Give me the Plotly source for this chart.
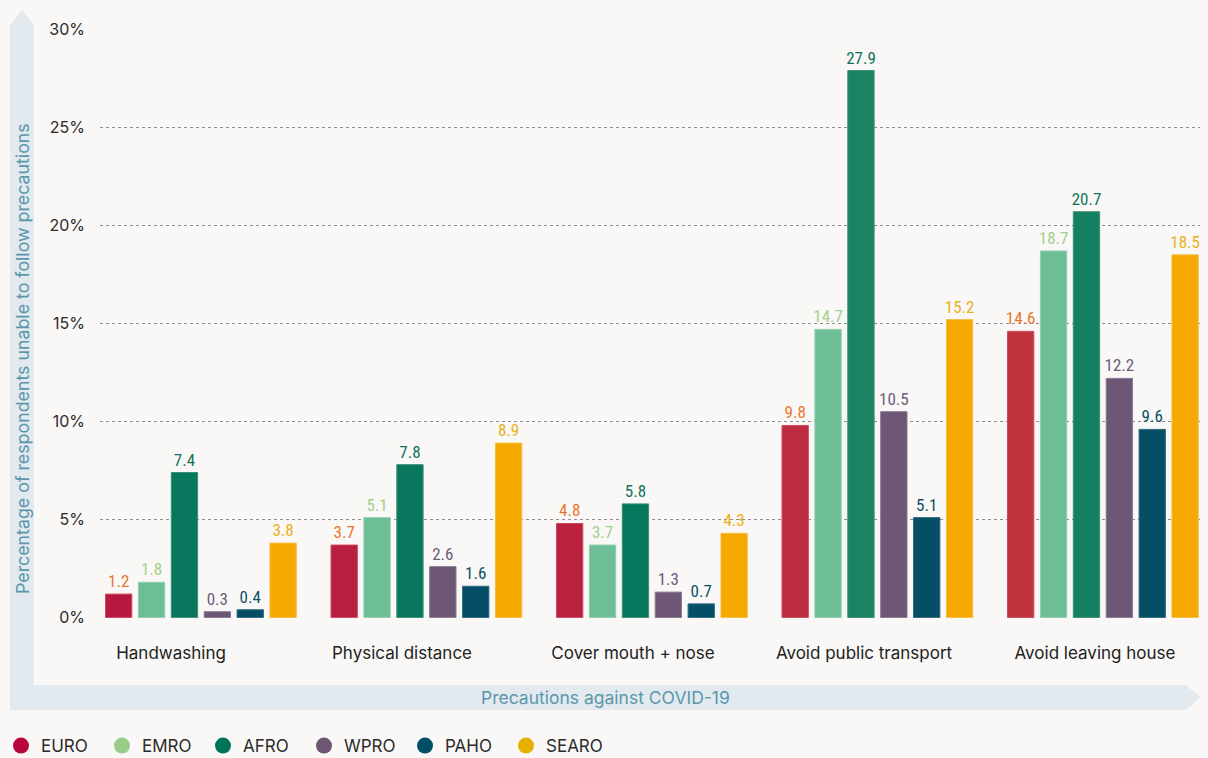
import plotly.graph_objects as go

categories = ["Handwashing", "Physical distance", "Cover mouth + nose",
              "Avoid public transport", "Avoid leaving house"]
regions = ["EURO", "EMRO", "AFRO", "WPRO", "PAHO", "SEARO"]
euro = [1.2, 3.7, 4.8, 9.8, 14.6]
emro = [1.8, 5.1, 3.7, 14.7, 18.7]
afro = [7.4, 7.8, 5.8, 27.9, 20.7]
wpro = [0.3, 2.6, 1.3, 10.5, 12.2]
paho = [0.4, 1.6, 0.7, 5.1, 9.6]
searo = [3.8, 8.9, 4.3, 15.2, 18.5]
series = [euro, emro, afro, wpro, paho, searo]
y_ticks = [0, 5, 10, 15, 20, 25, 30]
y_ticktext = ["0%", "5%", "10%", "15%", "20%", "25%", "30%"]

# bar colour at the baseline and (for the gradient ones) at the 30% level
bar_base = ["#B5173F", "#6DBE97", "#00735A", "#6D5775", "#054E66", "#F5A800"]
bar_top = ["#E3903A", "#6DBE97", "#3E9572", "#6D5775", "#054E66", "#F5A800"]
bar_edge = ["#CC4A5E", "#8FD0AE", "#3A8F74", "#8A7790", "#2C6A7E", "#F8BE40"]
label_colors = ["#E8752E", "#A2D08E", "#11735A", "#6F5A7A", "#0D5068", "#E8B21A"]
legend_colors = ["#B8063E", "#98CC88", "#007458", "#6E5673", "#004F66", "#E5B100"]
BG = "#F9F8F6"

# The page body has an 8px margin, so the figure starts at screen (8, 8).
OFF = 8
W, H = 1200, 750
# plot area in screen pixels
SL, SR, ST, SB = 100, 1206, 29, 618
L, T = SL - OFF, ST - OFF
R = W - (SR - OFF)
B = H - (SB - OFF)
PW, PH = W - L - R, H - T - B


def px2paper(x, y):
    """screen pixel -> paper coordinates"""
    return (x - OFF - L) / PW, 1 - (y - OFF - T) / PH


def hex2rgb(h):
    h = h.lstrip("#")
    return [int(h[i:i + 2], 16) for i in (0, 2, 4)]


def mix(c1, c2, t):
    a, b = hex2rgb(c1), hex2rgb(c2)
    return "rgb({},{},{})".format(*[round(x + (y - x) * t) for x, y in zip(a, b)])


xs = list(range(len(categories)))
fig = go.Figure()
for name, vals, cb, ct, ce, lc in zip(regions, series, bar_base, bar_top, bar_edge, label_colors):
    # mean colour of a vertical gradient running from the base to the bar top
    cols = [mix(cb, ct, v / 60.0) for v in vals]
    fig.add_trace(go.Bar(
        x=xs, y=vals, name=name,
        marker=dict(color=cols, line=dict(width=1, color=ce)),
        text=[f"{v:.1f}" for v in vals], textposition="outside",
        constraintext="none",
        textfont=dict(color=lc, size=17,
                      family="Liberation Sans Narrow, Roboto Condensed, Arial Narrow, sans-serif"),
        cliponaxis=False, showlegend=False, hoverinfo="x+y"))
for name, c in zip(regions, legend_colors):
    fig.add_trace(go.Scatter(x=[None], y=[None], mode="markers", name=name,
                             marker=dict(color=c, size=18, symbol="circle")))

# geometry of the category axis (screen pixels)
group0_px, group_step_px = 200.9, 225.5
label_centers_px = [171 + 231 * i for i in range(len(categories))]
tickvals = [(p - group0_px) / group_step_px for p in label_centers_px]
x_range = [(SL - group0_px) / group_step_px, (SR - group0_px) / group_step_px]

# decorative arrow band (screen pixels)
pts = [(10, 25), (22, 10), (34, 25), (34, 685), (1186, 685), (1201, 697.5),
       (1186, 710), (10, 710)]
path = "M " + " L ".join(f"{px2paper(x, y)[0]:.5f},{px2paper(x, y)[1]:.5f}" for x, y in pts) + " Z"

fig.update_layout(
    width=W, height=H,
    margin=dict(l=L, r=R, t=T, b=B, autoexpand=False),
    paper_bgcolor=BG, plot_bgcolor=BG,
    barmode="group", bargap=0.125, bargroupgap=0.2,
    font=dict(family="Inter, Open Sans, sans-serif", color="#2b2b2b"),
    xaxis=dict(range=x_range, tickvals=tickvals, ticktext=categories,
               showgrid=False, zeroline=False, showline=False, ticks="",
               tickfont=dict(size=17, color="#222", family="Inter, Open Sans, sans-serif"),
               ticklabelstandoff=23),
    yaxis=dict(range=[-0.02, 30.02], tickvals=y_ticks, ticktext=y_ticktext,
               showgrid=True, gridcolor="#8f8f8f", griddash="dot", gridwidth=1,
               zeroline=False, showline=False, ticks="",
               tickfont=dict(size=16, color="#2b2b2b"), ticklabelstandoff=14),
    legend=dict(orientation="h", x=px2paper(1, 0)[0], xanchor="left",
                y=px2paper(0, 746)[1], yanchor="middle",
                font=dict(size=17, color="#2b2b2b"), entrywidth=56,
                bgcolor="rgba(0,0,0,0)", traceorder="normal"),
    shapes=[dict(type="path", xref="paper", yref="paper", path=path,
                 fillcolor="#E2E9EF", line=dict(width=0), layer="below")],
    annotations=[
        dict(text="Percentage of respondents unable to follow precautions",
             xref="paper", yref="paper", x=px2paper(22, 0)[0], y=px2paper(0, 359)[1],
             xanchor="center", yanchor="middle",
             textangle=-90, showarrow=False,
             font=dict(size=17.8, color="#5B97AA")),
        dict(text="Precautions against COVID-19", xref="paper", yref="paper",
             x=px2paper(605, 0)[0], y=px2paper(0, 697)[1],
             xanchor="center", yanchor="middle", showarrow=False,
             font=dict(size=17.5, color="#5B97AA")),
    ],
)

fig.write_html("out.html",
               post_script=f"document.body.style.backgroundColor='{BG}';")
